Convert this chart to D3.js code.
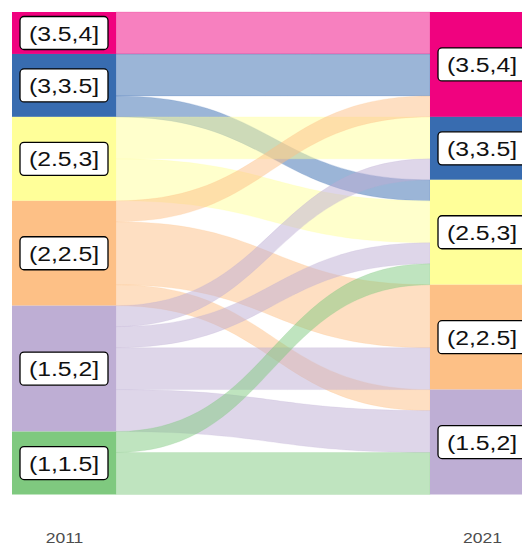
<!DOCTYPE html>
<html lang="en">
<head>
<meta charset="utf-8">
<script src="https://d3js.org/d3.v7.min.js"></script>
<style>
body { margin: 0; background: #fff; }
svg { display: block; }
.axis text { font-family: "Liberation Sans", Arial, sans-serif; }
</style>
</head>
<body>
<div id="chart"></div>
<script>
// categories (bottom to top) and their colours (Accent palette)
var cats = ["(1,1.5]", "(1.5,2]", "(2,2.5]", "(2.5,3]", "(3,3.5]", "(3.5,4]"];
var catColors = ["#7FC97F", "#BEAED4", "#FDC086", "#FFFF99", "#386CB0", "#F0027F"];
var years = ["2011", "2021"];

// flows: 2011 category -> 2021 category, count
var flowFrom = ["(3.5,4]", "(3,3.5]", "(3,3.5]", "(2.5,3]", "(2.5,3]", "(2,2.5]", "(2,2.5]", "(2,2.5]",
                "(1.5,2]", "(1.5,2]", "(1.5,2]", "(1.5,2]", "(1,1.5]", "(1,1.5]"];
var flowTo   = ["(3.5,4]", "(3.5,4]", "(2.5,3]", "(3,3.5]", "(2.5,3]", "(3.5,4]", "(2,2.5]", "(1.5,2]",
                "(3,3.5]", "(2.5,3]", "(2,2.5]", "(1.5,2]", "(2.5,3]", "(1.5,2]"];
var flowN    = [2, 2, 1, 2, 2, 1, 3, 1, 1, 1, 2, 2, 1, 2];

var width = 522, height = 544;
var stratumW = 104;

var svg = d3.select("#chart").append("svg")
  .attr("width", width)
  .attr("height", height);

var flows = flowN.map(function(n, i) {
  return { from: flowFrom[i], to: flowTo[i], n: n };
});
var total = d3.sum(flowN);
var rank = function(c) { return cats.indexOf(c); };
var color = d3.scaleOrdinal().domain(cats).range(catColors);

var x = d3.scalePoint().domain(years).range([64, 482]);
var y = d3.scaleLinear().domain([0, total]).range([12, 494.5]);

// stack strata and lodes from the top (highest category first)
var topDown = cats.slice().reverse();
var strata = [];
[["2011", "from", "to"], ["2021", "to", "from"]].forEach(function(side) {
  var yr = side[0], key = side[1], other = side[2];
  var acc = 0;
  topDown.forEach(function(c) {
    var members = flows.filter(function(f) { return f[key] === c; })
      .sort(function(a, b) { return rank(b[other]) - rank(a[other]); });
    var n = d3.sum(members, function(f) { return f.n; });
    if (n === 0) return;
    strata.push({ year: yr, cat: c, y0: acc, y1: acc + n });
    var a = acc;
    members.forEach(function(f) {
      f[yr] = [a, a + f.n];
      a += f.n;
    });
    acc += n;
  });
});

var xL = x("2011") + stratumW / 2;
var xR = x("2021") - stratumW / 2;
var xm = (xL + xR) / 2;

function flowPath(f) {
  var a0 = y(f["2011"][0]), a1 = y(f["2011"][1]);
  var b0 = y(f["2021"][0]), b1 = y(f["2021"][1]);
  return "M" + xL + "," + a0 +
    "C" + xm + "," + a0 + " " + xm + "," + b0 + " " + xR + "," + b0 +
    "L" + xR + "," + b1 +
    "C" + xm + "," + b1 + " " + xm + "," + a1 + " " + xL + "," + a1 + "Z";
}

// flows
svg.append("g").selectAll("path")
  .data(flows)
  .enter().append("path")
  .attr("d", flowPath)
  .attr("fill", function(d) { return color(d.from); })
  .attr("fill-opacity", 0.5)
  .attr("stroke", function(d) { return color(d.from); })
  .attr("stroke-opacity", 0.3)
  .attr("stroke-width", 0.6);

// strata
svg.append("g").selectAll("rect")
  .data(strata)
  .enter().append("rect")
  .attr("x", function(d) { return x(d.year) - stratumW / 2; })
  .attr("y", function(d) { return y(d.y0); })
  .attr("width", stratumW)
  .attr("height", function(d) { return y(d.y1) - y(d.y0); })
  .attr("fill", function(d) { return color(d.cat); });

// stratum labels
var lab = svg.append("g").selectAll("g")
  .data(strata)
  .enter().append("g")
  .attr("transform", function(d) {
    return "translate(" + x(d.year) + "," + (y(d.y0) + y(d.y1)) / 2 + ")";
  });

lab.append("rect")
  .attr("x", -44).attr("y", -16.5)
  .attr("width", 88).attr("height", 33)
  .attr("rx", 4)
  .attr("fill", "#fff")
  .attr("stroke", "#000")
  .attr("stroke-width", 1.3);

lab.append("text")
  .attr("transform", "scale(1.18,1)")
  .attr("text-anchor", "middle")
  .attr("dy", "0.36em")
  .style("font-family", "'Liberation Sans', Arial, sans-serif")
  .style("font-size", "21px")
  .attr("fill", "#111")
  .text(function(d) { return d.cat; });

// year axis
var axis = svg.append("g")
  .attr("class", "axis")
  .attr("transform", "translate(0,530)")
  .call(d3.axisBottom(x).tickSize(0).tickPadding(2));
axis.select(".domain").remove();
axis.selectAll("text")
  .attr("transform", "scale(1.17,1)")
  .style("font-size", "15px")
  .attr("fill", "#4d4d4d");
</script>
</body>
</html>
